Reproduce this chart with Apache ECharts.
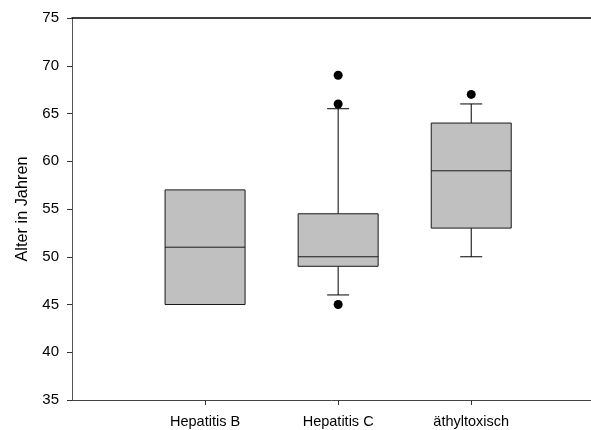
<!DOCTYPE html>
<html>
<head>
<meta charset="utf-8">
<script src="https://cdn.jsdelivr.net/npm/echarts@6/dist/echarts.min.js"></script>
<style>html,body{margin:0;padding:0;background:#fff}#c{width:591px;height:430px}</style>
</head>
<body>
<div id="c"></div>
<script>
const categories = ['Hepatitis B', 'Hepatitis C', 'äthyltoxisch'];
const whiskerLow = [45, 46, 50];
const q1 = [45, 49, 53];
const median = [51, 50, 59];
const q3 = [57, 54.5, 64];
const whiskerHigh = [57, 65.5, 66];
const outlierCat = [2, 2, 2, 3];
const outlierVal = [45, 66, 69, 67];
const yTicks = [35, 40, 45, 50, 55, 60, 65, 70, 75];

const boxData = categories.map((c, i) => [i + 1, whiskerLow[i], q1[i], median[i], q3[i], whiskerHigh[i]]);
const outlierData = outlierCat.map((c, i) => [c, outlierVal[i]]);

const BOX_W = 80, CAP_W = 22;
const font = 'Liberation Sans, Arial, sans-serif';

function renderBox(params, api) {
  const x = api.value(0);
  const pLo = api.coord([x, api.value(1)]);
  const pQ1 = api.coord([x, api.value(2)]);
  const pMed = api.coord([x, api.value(3)]);
  const pQ3 = api.coord([x, api.value(4)]);
  const pHi = api.coord([x, api.value(5)]);
  const cx = pQ1[0];
  const lineStyle = { stroke: '#000', lineWidth: 1, fill: null };
  const children = [];
  if (api.value(5) > api.value(4)) {
    children.push({ type: 'line', shape: { x1: cx, y1: pQ3[1], x2: cx, y2: pHi[1] }, style: lineStyle });
    children.push({ type: 'line', shape: { x1: cx - CAP_W / 2, y1: pHi[1], x2: cx + CAP_W / 2, y2: pHi[1] }, style: lineStyle });
  }
  if (api.value(1) < api.value(2)) {
    children.push({ type: 'line', shape: { x1: cx, y1: pQ1[1], x2: cx, y2: pLo[1] }, style: lineStyle });
    children.push({ type: 'line', shape: { x1: cx - CAP_W / 2, y1: pLo[1], x2: cx + CAP_W / 2, y2: pLo[1] }, style: lineStyle });
  }
  children.push({ type: 'rect', shape: { x: cx - BOX_W / 2, y: pQ3[1], width: BOX_W, height: pQ1[1] - pQ3[1] },
    style: { fill: '#c0c0c0', stroke: '#1a1a1a', lineWidth: 1 } });
  children.push({ type: 'line', shape: { x1: cx - BOX_W / 2, y1: pMed[1], x2: cx + BOX_W / 2, y2: pMed[1] }, style: { stroke: '#1a1a1a', lineWidth: 1 } });
  return { type: 'group', children };
}

const chart = echarts.init(document.getElementById('c'), null, { renderer: 'canvas' });
chart.setOption({
  animation: false,
  backgroundColor: '#fff',
  grid: { left: 72, right: 0, top: 18, bottom: 30 },
  xAxis: [{
    type: 'value', min: 0, max: 3.9, interval: 1,
    axisLine: { show: true, lineStyle: { color: '#444', width: 1 } },
    axisTick: { show: true, length: 5, inside: false, customValues: [1, 2, 3], lineStyle: { color: '#333' } },
    axisLabel: { customValues: [1, 2, 3], formatter: v => categories[v - 1] || '', color: '#000', fontFamily: font, fontSize: 14.5, margin: 14 },
    splitLine: { show: false }
  }, {
    type: 'value', position: 'top', min: 0, max: 3.9,
    axisLine: { show: true, lineStyle: { color: '#000', width: 1.5 } },
    axisTick: { show: false }, axisLabel: { show: false }, splitLine: { show: false }
  }],
  yAxis: {
    type: 'value', min: 35, max: 75, interval: 5,
    name: 'Alter in Jahren', nameLocation: 'middle', nameGap: 41,
    nameTextStyle: { color: '#000', fontFamily: font, fontSize: 16.3 },
    axisLine: { show: true, lineStyle: { color: '#555', width: 1 } },
    axisTick: { show: true, length: 5, lineStyle: { color: '#333' } },
    axisLabel: { color: '#000', fontFamily: font, fontSize: 15, margin: 13 },
    splitLine: { show: false }
  },
  series: [{
    type: 'custom', renderItem: renderBox, data: boxData, encode: { x: 0, y: [1, 5] }, z: 2
  }, {
    type: 'scatter', data: outlierData, symbol: 'circle', symbolSize: 9,
    itemStyle: { color: '#000', opacity: 1 }, z: 3
  }]
});
</script>
</body>
</html>
